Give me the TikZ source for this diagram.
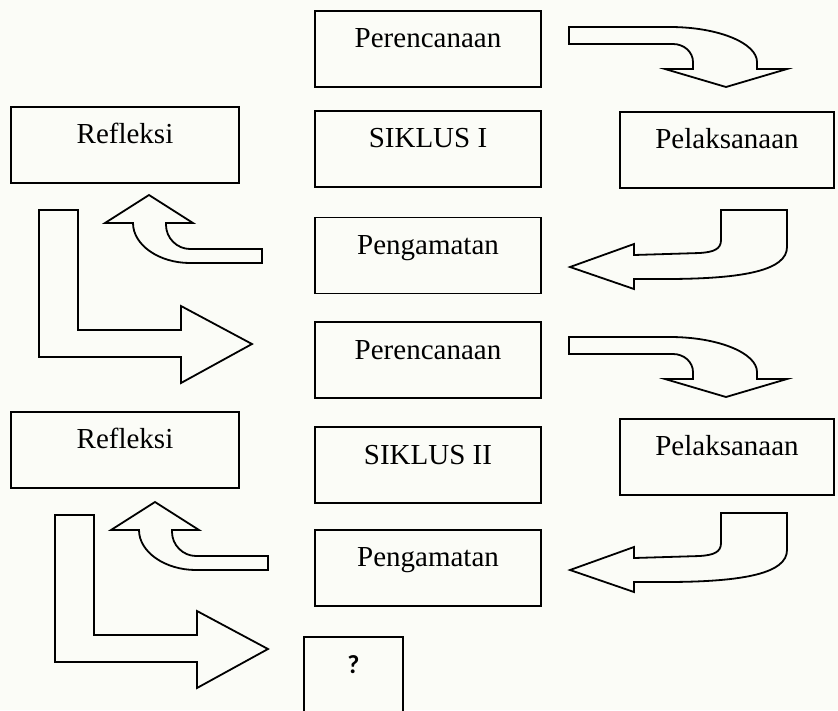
\documentclass[tikz,border=0pt]{standalone}
\usepackage{fontspec}
\setmainfont{Liberation Serif}
\newfontfamily\qmarkfont{Carlito}
\usepackage{tikz}
\usetikzlibrary{positioning}
\definecolor{paper}{RGB}{251,252,247}

\begin{document}
\begin{tikzpicture}[
  x=1pt, y=-1pt,
  every node/.style={font=\fontsize{29}{34}\selectfont},
  stagebox/.style={
    rectangle, draw=black, line width=1.8pt, fill=paper,
    inner xsep=0pt, inner ysep=0pt,
    text height=37pt, text depth=39pt,
  },
  midbox/.style={stagebox, minimum width=226pt},
  leftbox/.style={stagebox, minimum width=228pt},
  rightbox/.style={stagebox, minimum width=214pt},
  blockarrow/.style={draw=black, line width=1.8pt, fill=paper, line join=miter},
]
\fill[paper] (0,0) rectangle (838,710);
\useasboundingbox (0,0) rectangle (838,710);

% middle column
\node[midbox, anchor=north] (plan1) at (428,10) {Perencanaan};
\node[midbox, below=22pt of plan1] (cycle1) {SIKLUS I};
\node[midbox, below=29pt of cycle1] (observe1) {Pengamatan};
\node[midbox, below=27pt of observe1] (plan2) {Perencanaan};
\node[midbox, below=27pt of plan2] (cycle2) {SIKLUS II};
\node[midbox, below=25pt of cycle2] (observe2) {Pengamatan};

% side boxes
\node[leftbox, anchor=north] (reflect1) at (125,106) {Refleksi};
\node[rightbox, anchor=north] (act1) at (727,111) {Pelaksanaan};
\node[leftbox, anchor=north] (reflect2) at (125,411) {Refleksi};
\node[rightbox, anchor=north] (act2) at (727,418) {Pelaksanaan};

% next cycle
\node[stagebox, minimum width=99pt, anchor=north,
      font=\qmarkfont\bfseries\fontsize{26}{30}\selectfont] (next) at (353.5,636) {?};

% plan -> act
\foreach \dy in {0,310}
  \draw[blockarrow, shift={(0,\dy)}] (569,27) -- (670,27)
    .. controls (718,27) and (757,43) .. (757,62) -- (757,69) -- (787,69)
    -- (726,87) -- (665,69) -- (693,69) -- (693,62)
    .. controls (693,52) and (684,44) .. (673,44) -- (569,44) -- cycle;

% act -> observe
\foreach \dy in {0,303}
  \draw[blockarrow, shift={(0,\dy)}] (721,210) -- (787,210) -- (787,247)
    .. controls (787,270) and (745,279) .. (665,279) -- (634,279) -- (634,289)
    -- (570,267) -- (634,244) -- (634,255) -- (700,253)
    .. controls (714,252) and (721,249) .. (721,240) -- cycle;

% observe -> reflect
\foreach \dx/\dy in {0/0,6/307}
  \draw[blockarrow, shift={(\dx,\dy)}] (262,249) -- (190,249)
    .. controls (177,249) and (166,238) .. (166,225) -- (166,223) -- (193,223)
    -- (149,195) -- (105,223) -- (133,223)
    .. controls (133,245) and (159,263) .. (190,263) -- (262,263) -- cycle;

% reflect -> next plan
\foreach \dx/\dy in {0/0,16/305}
  \draw[blockarrow, shift={(\dx,\dy)}] (39,210) -- (78,210) -- (78,330)
    -- (181,330) -- (181,306) -- (252,344) -- (181,383) -- (181,357)
    -- (39,357) -- cycle;

\end{tikzpicture}
\end{document}
